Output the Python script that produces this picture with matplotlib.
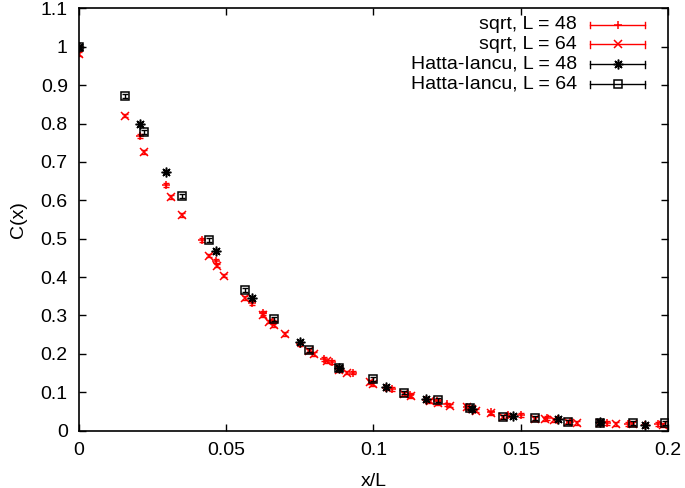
import matplotlib
matplotlib.use("Agg")
import matplotlib.pyplot as plt
from matplotlib.lines import Line2D

plt.rcParams['font.family'] = ['Liberation Sans', 'DejaVu Sans']
plt.rcParams['font.size'] = 14

# sqrt, L = 48 (red plus)
sqrt48_x = [0, 0.0208, 0.0295, 0.0417, 0.0466, 0.0589, 0.0625, 0.0659, 0.0751, 0.0833,
            0.0859, 0.0884, 0.0932, 0.1042, 0.1062, 0.1123, 0.1179, 0.1215, 0.1250, 0.1318,
            0.1334, 0.1398, 0.1458, 0.1502, 0.1588, 0.1627, 0.1667, 0.1768, 0.1792, 0.1863,
            0.1921, 0.1965]
sqrt48_y = [1.0, 0.767, 0.640, 0.497, 0.441, 0.332, 0.306, 0.282, 0.226, 0.187,
            0.178, 0.160, 0.151, 0.111, 0.108, 0.093, 0.080, 0.077, 0.068, 0.061,
            0.056, 0.047, 0.041, 0.040, 0.032, 0.030, 0.022, 0.020, 0.019, 0.018,
            0.014, 0.016]

# sqrt, L = 64 (red x)
sqrt64_x = [0, 0.0156, 0.0221, 0.0313, 0.0349, 0.0442, 0.0469, 0.0494, 0.0563, 0.0625,
            0.0644, 0.0663, 0.0699, 0.0781, 0.0797, 0.0841, 0.0884, 0.0911, 0.0988, 0.1000,
            0.1105, 0.1127, 0.1191, 0.1220, 0.1260, 0.1316, 0.1335, 0.1348, 0.1398, 0.1441,
            0.1547, 0.1581, 0.1614, 0.1661, 0.1692, 0.1768, 0.1822, 0.1881, 0.1984]
sqrt64_y = [0.982, 0.821, 0.725, 0.608, 0.561, 0.456, 0.430, 0.404, 0.345, 0.300,
            0.284, 0.274, 0.252, 0.207, 0.200, 0.180, 0.158, 0.151, 0.126, 0.122,
            0.095, 0.091, 0.076, 0.072, 0.065, 0.060, 0.056, 0.052, 0.046, 0.036,
            0.030, 0.031, 0.028, 0.022, 0.020, 0.019, 0.016, 0.017, 0.015]

# Hatta-Iancu, L = 48 (black asterisk)
hi48_x = [0, 0.0208, 0.0295, 0.0466, 0.0589, 0.0751, 0.0884, 0.1042, 0.1179, 0.1334,
          0.1473, 0.1627, 0.1768, 0.1921]
hi48_y = [1.0, 0.800, 0.675, 0.467, 0.345, 0.230, 0.163, 0.113, 0.082, 0.057,
          0.039, 0.031, 0.021, 0.014]

# Hatta-Iancu, L = 64 (black open square)
hi64_x = [0, 0.0156, 0.0221, 0.0349, 0.0442, 0.0563, 0.0663, 0.0781, 0.0884, 0.1000,
          0.1105, 0.1220, 0.1326, 0.1441, 0.1547, 0.1661, 0.1768, 0.1881, 0.1989]
hi64_y = [1.0, 0.871, 0.779, 0.612, 0.497, 0.367, 0.291, 0.210, 0.162, 0.134,
          0.099, 0.079, 0.058, 0.036, 0.032, 0.023, 0.020, 0.020, 0.020]

err = 0.005

labels = ['sqrt, L = 48', 'sqrt, L = 64', 'Hatta-Iancu, L = 48', 'Hatta-Iancu, L = 64']
colors = ['#ff0000', '#ff0000', 'black', 'black']
markers = ['+', 'x', (8, 2, 0), 's']
msizes = [6, 6, 7, 6]

fig = plt.figure(figsize=(6.85, 4.88), dpi=100)
ax = fig.add_axes([0.1153, 0.1178, 0.8599, 0.8648])

series = [(sqrt48_x, sqrt48_y), (sqrt64_x, sqrt64_y), (hi48_x, hi48_y), (hi64_x, hi64_y)]
for (xs, ys), c, m, ms in zip(series, colors, markers, msizes):
    ax.errorbar(xs, ys, yerr=err, fmt='none', ecolor=c, elinewidth=1, capsize=2.5)
    ax.plot(xs, ys, linestyle='none', marker=m, color=c, markersize=ms,
            markeredgewidth=1.1, fillstyle='none')

ax.set_xlim(0, 0.2)
ax.set_ylim(0, 1.1)
ax.set_xticks([0, 0.05, 0.1, 0.15, 0.2])
ax.set_xticklabels(['0', '0.05', '0.1', '0.15', '0.2'])
yt = [i / 10 for i in range(12)]
ax.set_yticks(yt)
ax.set_yticklabels(['0', '0.1', '0.2', '0.3', '0.4', '0.5', '0.6', '0.7', '0.8', '0.9', '1', '1.1'])
ax.tick_params(direction='in', length=5, width=1, top=True, right=True, pad=8)
for s in ax.spines.values():
    s.set_linewidth(1.2)

ax.set_xlabel('x/L', labelpad=10)
ax.set_ylabel('C(x)', labelpad=10)

# gnuplot-style key
rows = [0.961, 0.915, 0.868, 0.820]
for lab, c, m, ms, yy in zip(labels, colors, markers, msizes, rows):
    ax.text(0.8455, yy, lab, transform=ax.transAxes, ha='right', va='center')
    ax.add_line(Line2D([0.868, 0.961], [yy, yy], transform=ax.transAxes, color=c, lw=1))
    for xe in (0.868, 0.961):
        ax.add_line(Line2D([xe, xe], [yy - 0.008, yy + 0.008], transform=ax.transAxes, color=c, lw=1))
    ax.add_line(Line2D([0.9145], [yy], transform=ax.transAxes, color=c, marker=m,
                       markersize=ms, markeredgewidth=1.1, fillstyle='none', linestyle='none'))

fig.savefig('out.png', dpi=100)
